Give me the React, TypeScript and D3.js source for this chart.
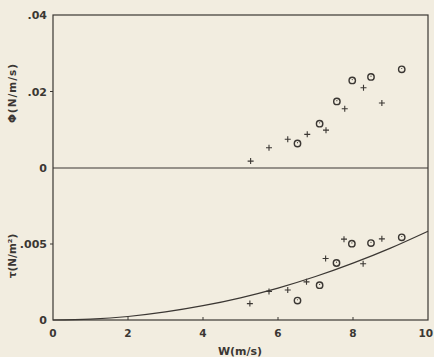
import React from "react";
import * as d3 from "d3";

const W = 434, H = 357;
const bg = "#f2ede0";
const ink = "#3b3733";

// Upper panel: Phi (N/m/s)
const phiPlusW = [5.27, 5.76, 6.26, 6.78, 7.28, 7.78, 8.28, 8.77];
const phiPlusV = [0.0018, 0.0053, 0.0075, 0.0088, 0.0099, 0.0155, 0.021, 0.017];
const phiCircW = [6.52, 7.11, 7.57, 7.98, 8.48, 9.3];
const phiCircV = [0.0064, 0.0116, 0.0174, 0.0229, 0.0238, 0.0258];

// Lower panel: tau (N/m^2)
const tauPlusW = [5.25, 5.76, 6.26, 6.76, 7.27, 7.76, 8.27, 8.77];
const tauPlusV = [0.00108, 0.00188, 0.00197, 0.00251, 0.00405, 0.00532, 0.0037, 0.00534];
const tauCircW = [6.52, 7.11, 7.56, 7.97, 8.48, 9.3];
const tauCircV = [0.00128, 0.00229, 0.00375, 0.00502, 0.00506, 0.00544];

// Fitted curve
const curveW = [0, 1, 2, 3, 4, 5, 6, 7, 8, 9, 10];
const curveV = [0, 0.00006, 0.00023, 0.00053, 0.00094, 0.00146, 0.0021, 0.00286, 0.00374, 0.00473, 0.00584];

const xTicks = [0, 2, 4, 6, 8, 10];
const phiTicks = [0, 0.02, 0.04];
const phiTickLabels = ["0", ".02", ".04"];
const tauTicks = [0, 0.005];
const tauTickLabels = ["0", ".005"];

const left = 53, right = 428, top = 15, mid = 168, bottom = 320;

export default function App() {
  const x = d3.scaleLinear().domain([0, 10]).range([left, right]);
  const yPhi = d3.scaleLinear().domain([0, 0.04]).range([mid, top]);
  const yTau = d3.scaleLinear().domain([0, 0.01]).range([bottom, mid]);

  const line = d3
    .line<number>()
    .x((_, i) => x(curveW[i]))
    .y((v) => yTau(v))
    .curve(d3.curveMonotoneX);

  const font = "'DejaVu Sans', Verdana, sans-serif";

  const plus = (cx: number, cy: number, k: string) => (
    <path key={k} d={`M${cx - 3},${cy}H${cx + 3}M${cx},${cy - 3}V${cy + 3}`} stroke={ink} strokeWidth={1.1} fill="none" />
  );
  const circ = (cx: number, cy: number, k: string) => (
    <g key={k}>
      <circle cx={cx} cy={cy} r={3.2} stroke={ink} strokeWidth={1.4} fill="none" />
      <circle cx={cx} cy={cy - 0.8} r={0.6} fill={ink} />
    </g>
  );

  return (
    <svg width={W} height={H} style={{ position: "absolute", left: 0, top: 0, background: bg }}>
      <rect x={0} y={0} width={W} height={H} fill={bg} />
      <g stroke={ink} strokeWidth={1.2} fill="none">
        <rect x={left} y={top} width={right - left} height={bottom - top} />
        <line x1={left} x2={right} y1={mid} y2={mid} />
      </g>
      {/* x ticks */}
      {xTicks.slice(1, -1).map((t) => (
        <line key={"xt" + t} x1={x(t)} x2={x(t)} y1={bottom} y2={bottom - 3} stroke={ink} strokeWidth={1} />
      ))}
      {xTicks.map((t, i) => (
        <text
          key={"xl" + t}
          x={i === xTicks.length - 1 ? W - 1 : x(t)}
          y={bottom + 17}
          textAnchor={i === xTicks.length - 1 ? "end" : "middle"}
          fontFamily={font}
          fontSize={10.5}
          fontWeight="bold"
          fill={ink}
        >
          {t}
        </text>
      ))}
      {/* y ticks phi */}
      {phiTicks.map((t, i) => (
        <g key={"pt" + t}>
          {i === 1 && <line x1={left - 3} x2={left} y1={yPhi(t)} y2={yPhi(t)} stroke={ink} strokeWidth={1} />}
          <text x={left - 6} y={yPhi(t) + 4} textAnchor="end" fontFamily={font} fontSize={11} fontWeight="bold" fill={ink}>
            {phiTickLabels[i]}
          </text>
        </g>
      ))}
      {tauTicks.map((t, i) => (
        <g key={"tt" + t}>
          {i === 1 && <line x1={left - 3} x2={left} y1={yTau(t)} y2={yTau(t)} stroke={ink} strokeWidth={1} />}
          <text x={left - 6} y={yTau(t) + 4} textAnchor="end" fontFamily={font} fontSize={11} fontWeight="bold" fill={ink}>
            {tauTickLabels[i]}
          </text>
        </g>
      ))}
      {/* axis labels */}
      <text transform={`translate(16,93) rotate(-90)`} textAnchor="middle" fontFamily={font} fontSize={10.5} fontWeight="bold" letterSpacing={1} fill={ink}>
        Φ(N/m/s)
      </text>
      <text transform={`translate(16,256) rotate(-90)`} textAnchor="middle" fontFamily={font} fontSize={10.5} fontWeight="bold" fill={ink}>
        τ(N/m²)
      </text>
      <text x={240} y={355} textAnchor="middle" fontFamily={font} fontSize={11} fontWeight="bold" fill={ink}>
        W(m/s)
      </text>
      {/* curve */}
      <path d={line(curveV) || ""} stroke={ink} strokeWidth={1.2} fill="none" />
      {/* markers */}
      {phiPlusW.map((w, i) => plus(x(w), yPhi(phiPlusV[i]), "pp" + i))}
      {phiCircW.map((w, i) => circ(x(w), yPhi(phiCircV[i]), "pc" + i))}
      {tauPlusW.map((w, i) => plus(x(w), yTau(tauPlusV[i]), "tp" + i))}
      {tauCircW.map((w, i) => circ(x(w), yTau(tauCircV[i]), "tc" + i))}
    </svg>
  );
}
